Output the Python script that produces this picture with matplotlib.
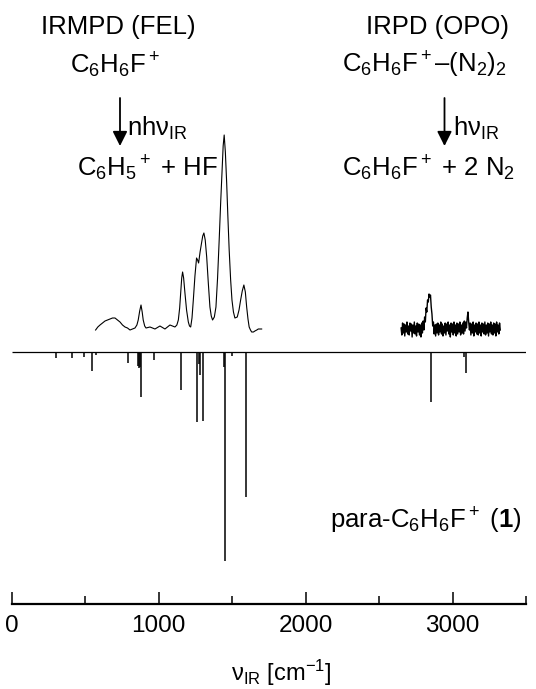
import numpy as np
import matplotlib
matplotlib.use("Agg")
import matplotlib.pyplot as plt

plt.rcParams['font.family'] = ['Liberation Sans', 'DejaVu Sans']
plt.rcParams['mathtext.fontset'] = 'custom'
plt.rcParams['mathtext.rm'] = 'Liberation Sans'
plt.rcParams['mathtext.it'] = 'Liberation Sans:italic'
plt.rcParams['mathtext.bf'] = 'Liberation Sans:bold'

# ---------------- data (arbitrary intensity units) ----------------
# IRMPD (FEL) experimental trace
fel_freq = [571, 586, 601, 618, 635, 652, 669, 686, 703, 720, 737, 754, 771, 788, 805,
            822, 839, 852, 861, 871, 880, 888, 895, 905, 914, 941,
            975, 1009, 1043, 1077, 1111, 1124, 1134, 1143, 1150, 1157, 1163, 1170, 1179,
            1190, 1202, 1210, 1218, 1227, 1236, 1247, 1258, 1265, 1272, 1282, 1292,
            1300, 1308, 1317, 1327, 1338, 1349, 1358, 1367, 1379, 1390, 1401, 1412,
            1422, 1431, 1439, 1446, 1454, 1463, 1471, 1480, 1490, 1499, 1509, 1519,
            1535, 1547, 1558, 1569, 1580, 1590, 1599, 1608, 1616, 1625, 1633, 1645,
            1655, 1668, 1678, 1690, 1701]
fel_int = [-2, 1, 3, 5, 7, 8, 9, 10, 10, 8, 6, 3, 1, 0, -2,
           -1, 0, 3, 8, 17, 23, 16, 8, 2, 0, 1,
           -1, 2, -1, 3, 1, 3, 8, 20, 35, 50, 56, 50, 35,
           18, 6, 2, 1, 10, 28, 52, 70, 68, 65, 76, 85,
           92, 95, 88, 71, 45, 21, 12, 8, 11, 21, 50, 88,
           125, 155, 182, 193, 176, 145, 112, 78, 48, 28, 16, 10,
           11, 18, 28, 37, 43, 36, 21, 9, 1, -2, -4, -4,
           -3, -2, -1, -1, -1]

# IRPD (OPO) experimental trace, sampled every 5 cm-1 starting at 2650 cm-1
opo_start = 2650
opo_step = 5
opo_int = [24, 17, 29, 19, 28, 16, 27, 20, 30, 18, 26, 17, 29, 21, 28, 15, 27, 19,
           30, 18, 26, 16, 29, 20, 28, 17, 27, 15, 29, 19, 31, 22, 35, 30, 44, 40,
           52, 50, 58, 55, 57, 45, 38, 26, 30, 18, 27, 16, 28, 19, 29, 17, 27, 20,
           30, 18, 28, 16, 26, 19, 29, 17, 28, 21, 30, 18, 27, 15, 29, 20, 28, 17,
           30, 19, 27, 16, 29, 18, 28, 20, 30, 17, 27, 19, 29, 18, 31, 21, 30, 24,
           34, 40, 30, 22, 29, 17, 28, 19, 30, 16, 27, 20, 29, 18, 28, 17, 30, 19,
           27, 16, 29, 20, 28, 18, 30, 17, 27, 19, 29, 16, 28, 20, 30, 18, 27, 17,
           29, 19, 28, 16, 30, 20, 27, 18, 29, 22]

# calculated stick spectrum of para-C6H6F+
stick_freq = [299, 410, 492, 548, 573, 789, 858, 864, 870, 877, 966, 1149, 1258, 1276,
              1281, 1303, 1447, 1453, 1500, 1596, 2856, 3078, 3090]
stick_int = [6, 6, 4.5, 19, 3, 11, 14, 16, 15, 45, 8, 38, 70, 12,
             23, 69, 15, 209, 4, 145, 50, 5, 21]

xticks_major = [0, 1000, 2000, 3000]
xtick_labels = ['0', '1000', '2000', '3000']

# ---------------- figure ----------------
W, H = 536, 689
fig = plt.figure(figsize=(W / 100, H / 100), dpi=100)
ax = fig.add_axes([11.7 / W, (H - 604) / H, 514.3 / W, 604 / H])
ax.set_xlim(0, 3500)
ax.set_ylim(-252, 352)

fel_offset = 24
ax.plot(fel_freq, np.array(fel_int) + fel_offset, color='black', lw=0.8)

opo_freq = opo_start + opo_step * np.arange(len(opo_int))
ax.plot(opo_freq, opo_int, color='black', lw=1.0)

ax.hlines(0, 0, 3500, color='black', lw=0.9)
ax.vlines(stick_freq, 0, -np.array(stick_int), color='black', lw=1.1)

for s in ['left', 'right', 'top']:
    ax.spines[s].set_visible(False)
ax.spines['bottom'].set_linewidth(1.6)
ax.set_yticks([])
ax.set_xticks(xticks_major)
ax.set_xticklabels(xtick_labels)
ax.xaxis.set_minor_locator(matplotlib.ticker.MultipleLocator(500))
ax.tick_params(axis='x', which='major', direction='in', length=8.6, width=1.1,
               labelsize=17.5, pad=8)
ax.tick_params(axis='x', which='minor', direction='in', length=5.8, width=1.1)


def ftxt(x, y, s, ha='center', va='baseline', size=18.5):
    fig.text(x / W, 1 - y / H, s, ha=ha, va=va, fontsize=size)


ftxt(281, 681, r'ν$_{\mathrm{IR}}$ [cm$^{-1}$]', size=17)
ftxt(118, 34, 'IRMPD (FEL)')
ftxt(438, 34, 'IRPD (OPO)')
ftxt(115, 73, r'C$_6$H$_6$F$^+$')
ftxt(342, 73, r'C$_6$H$_6$F$^+$–(N$_2$)$_2$', ha='left')
ftxt(127, 136, r'nhν$_{\mathrm{IR}}$', ha='left')
ftxt(453, 136, r'hν$_{\mathrm{IR}}$', ha='left')
ftxt(77, 176, r'C$_6$H$_5$$^+$ + HF', ha='left')
ftxt(342, 176, r'C$_6$H$_6$F$^+$ + 2 N$_2$', ha='left')
ftxt(522, 528, r'para-C$_6$H$_6$F$^+$ ($\mathbf{1}$)', ha='right')

for ax_x in [120, 444.5]:
    ax.annotate('', xy=(ax_x / W, 1 - 146 / H), xytext=(ax_x / W, 1 - 98 / H),
                xycoords='figure fraction', textcoords='figure fraction',
                arrowprops=dict(arrowstyle='-|>', lw=1.3, color='black',
                                mutation_scale=22, shrinkA=0, shrinkB=0))

fig.savefig('out.png', dpi=100)
